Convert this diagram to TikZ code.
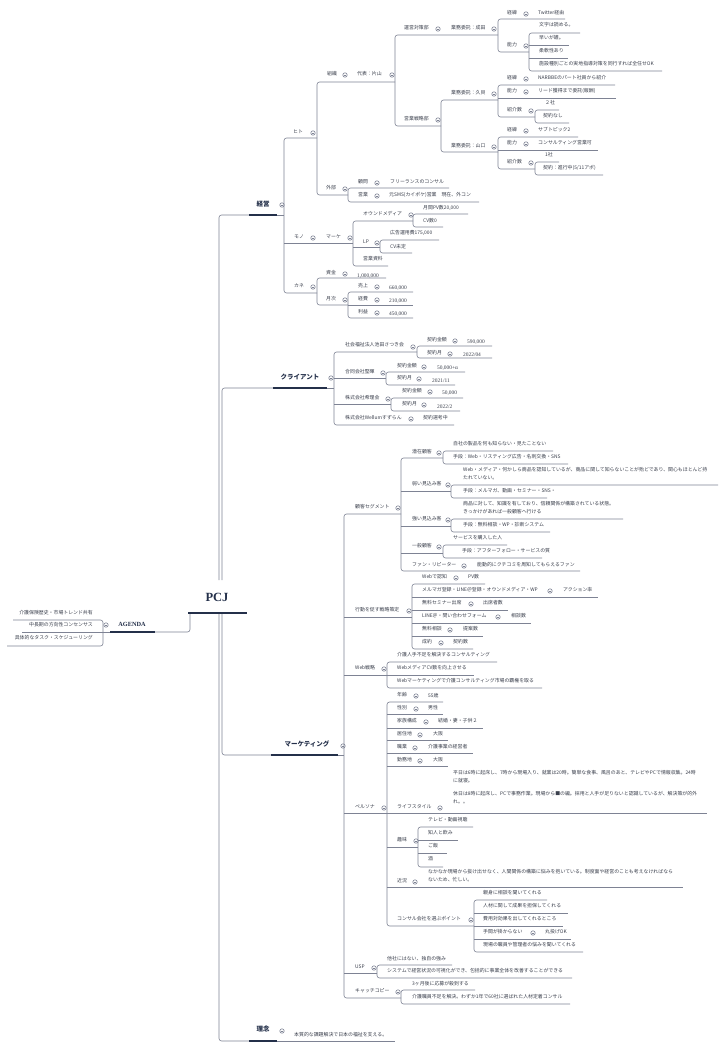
\documentclass[tikz,border=0pt]{standalone}
\usepackage{fontspec}
\setmainfont{Noto Sans CJK JP}
\newfontfamily\serif{Liberation Serif}
\definecolor{lc}{HTML}{7E8394}
\definecolor{nv}{HTML}{24304A}
\definecolor{tc}{HTML}{3A3F4C}
\newcounter{nd}
\tikzset{
 ln/.style={draw=lc, line width=0.6pt},
 rnd/.style={rounded corners=2.5pt},
 hv/.style={draw=nv, line width=2pt},
 txt/.style={anchor=west, inner sep=0pt, text=tc, font=\fontsize{4.9}{7}\selectfont},
 mltxt/.style={anchor=west, inner sep=0pt, text=tc, align=left, font=\fontsize{4.9}{8}\selectfont},
 numtxt/.style={anchor=west, inner sep=0pt, text=tc, font=\serif\fontsize{5.4}{7}\selectfont},
 toplbl/.style={anchor=center, inner sep=0pt, text=nv, font=\bfseries\fontsize{6.5}{8}\selectfont},
}
\newcommand\jtx[3]{\stepcounter{nd}\node[txt] (n\arabic{nd}) at (#1,#2) {#3};}
\newcommand\jml[3]{\stepcounter{nd}\node[mltxt] (n\arabic{nd}) at (#1,#2) {#3};}
\newcommand\jnum[3]{\stepcounter{nd}\node[numtxt] (n\arabic{nd}) at (#1,#2) {#3};}
\newcommand\jcc[2]{\draw[ln,fill=white] (#1,#2) circle[radius=2.2pt]; \draw[ln] (#1-1.3,#2)--(#1+1.3,#2);}
\begin{document}
\begin{tikzpicture}[x=1pt,y=-1pt]
\useasboundingbox (0,0) rectangle (726,1050);
\fill[white] (0,0) rectangle (726,1050);

% ---------- root ----------
\coordinate (ptop1) at (219,580);
\coordinate (ptop2) at (222,580);
\coordinate (pbot1) at (219,613);
\coordinate (pbot2) at (222,613);
\coordinate (pleft) at (190,613);
\draw[ln,rnd] (ptop1) |- (249,215);
\draw[ln,rnd] (ptop2) |- (273,388);
\draw[ln,rnd] (pbot2) |- (271,755);
\draw[ln,rnd] (pbot1) |- (249,1041);
\draw[ln,rnd] (pleft) |- (155,632);
\node[font=\serif\bfseries\fontsize{12.5}{14}\selectfont, text=nv, inner sep=0pt] (pcj) at (217,597) {PCJ};
\draw[hv,line width=2.3pt] (188,613)--(247,613);

% ---------- AGENDA ----------
\node[font=\serif\bfseries\fontsize{6.3}{8}\selectfont, text=nv, inner sep=0pt] (agenda) at (132,624) {AGENDA};
\jcc{106}{625}
\draw[hv] (110,632)--(155,632);
\draw[ln] (22,632)--(110,632);
\draw[ln,rnd] (13,620) -| (103,646) -- (7,646);
\stepcounter{nd}\node[txt,anchor=east] (n\arabic{nd}) at (93,613) {介護保険歴史・市場トレンド共有};
\stepcounter{nd}\node[txt,anchor=east] (n\arabic{nd}) at (93,625) {中長期の方向性コンセンサス};
\stepcounter{nd}\node[txt,anchor=east] (n\arabic{nd}) at (93,638) {具体的なタスク・スケジューリング};

% ---------- 経営 ----------
\node[toplbl] (keiei) at (263,204) {経営};
\jcc{282}{205}
\draw[hv] (249,215)--(277,215);
\draw[ln] (277,215)--(284,215);
\draw[ln,rnd] (317,138) -| (284,293) -- (317,293);
\draw[ln] (284,243)--(353,243);

% ヒト
\jtx{293}{132}{ヒト} \jcc{313}{133}
\draw[ln,rnd] (395,82) -| (317,195) -- (348,195);
\jtx{327}{74}{組織} \jcc{345}{75}
\jtx{357}{74}{代表：片山} \jcc{392}{75}
\draw[ln,rnd] (498,35) -| (395,126) -- (441,126);
\jtx{404}{28}{運営対策部} \jcc{438}{29}
\jtx{451}{28}{業務委託：成田} \jcc{494}{29}
\draw[ln,rnd] (565,19) -| (498,52) -- (529,52);
\jtx{507}{13}{経緯} \jcc{526}{14} \jtx{538}{13}{Twitter経由}
\jtx{507}{45}{能力} \jcc{526}{46}
\draw[ln,rnd] (580,33) -| (529,71) -- (662,71);
\draw[ln] (529,45)--(569,45);
\draw[ln] (529,58)--(568,58);
\jtx{539}{25}{文字は読める。}
\jtx{539}{38}{早いが雑。}
\jtx{539}{51}{柔軟性あり}
\jtx{539}{64}{施設種別ごとの実地指導対策を同行すれば全任せOK}

\jtx{404}{119}{営業戦略部} \jcc{438}{120}
\draw[ln,rnd] (498,100) -| (441,152) -- (498,152);
\jtx{451}{93}{業務委託：久貝} \jcc{494}{94}
\draw[ln,rnd] (615,85) -| (498,117) -- (535,117);
\draw[ln] (498,98)--(616,98);
\jtx{507}{78}{経緯} \jcc{526}{79} \jtx{538}{78}{NARBBEのパート社員から紹介}
\jtx{507}{91}{能力} \jcc{526}{92} \jtx{538}{91}{リード獲得まで委託(報酬)}
\jtx{507}{110}{紹介数} \jcc{531}{111}
\draw[ln,rnd] (559,110) -| (535,123) -- (569,123);
\jtx{545}{103}{２社}
\jtx{543}{116}{契約なし}

\jtx{451}{146}{業務委託：山口} \jcc{494}{147}
\draw[ln,rnd] (578,137) -| (498,169) -- (535,169);
\draw[ln] (498,150)--(598,150);
\jtx{507}{130}{経緯} \jcc{526}{131} \jtx{538}{130}{サブトピック2}
\jtx{507}{143}{能力} \jcc{526}{144} \jtx{538}{143}{コンサルティング営業可}
\jtx{507}{162}{紹介数} \jcc{531}{163}
\draw[ln,rnd] (559,162) -| (535,175) -- (603,175);
\jtx{545}{155}{1社}
\jtx{543}{168}{契約：進行中(5/11アポ)}

\jtx{326}{188}{外部} \jcc{345}{189}
\draw[ln,rnd] (449,188) -| (348,202) -- (479,202);
\jtx{358}{182}{顧問} \jcc{377}{183} \jtx{390}{182}{フリーランスのコンサル}
\jtx{358}{195}{営業} \jcc{377}{196} \jtx{389}{195}{元SMS(カイポケ)営業　現在、外コン}

% モノ
\jtx{294}{237}{モノ} \jcc{313}{238}
\jtx{326}{237}{マーケ} \jcc{350}{238}
\draw[ln,rnd] (413,221) -| (353,266) -- (388,266);
\draw[ln] (353,247)--(380,247);
\jtx{363}{214}{オウンドメディア} \jcc{411}{215}
\draw[ln,rnd] (468,214) -| (413,227) -- (443,227);
\jtx{423}{208}{月間PV数20,000}
\jtx{423}{221}{CV数0}
\jtx{363}{242}{LP} \jcc{377}{243}
\draw[ln,rnd] (439,240) -| (380,253) -- (412,253);
\jtx{390}{233}{広告運用費175,000}
\jtx{390}{247}{CV未定}
\jtx{363}{259}{営業資料}

% カネ
\jtx{294}{286}{カネ} \jcc{313}{287}
\draw[ln,rnd] (386,278) -| (317,305) -- (348,305);
\jtx{326}{273}{資金} \jcc{345}{274} \jnum{357}{276}{1,000,000}
\jtx{326}{299}{月次} \jcc{345}{300}
\draw[ln,rnd] (413,292) -| (348,318) -- (413,318);
\draw[ln] (348,305)--(413,305);
\jtx{358}{286}{売上} \jcc{377}{287} \jnum{389}{288}{660,000}
\jtx{358}{299}{経費} \jcc{377}{300} \jnum{389}{301}{210,000}
\jtx{358}{312}{利益} \jcc{377}{313} \jnum{389}{314}{450,000}

% ---------- クライアント ----------
\node[toplbl] (client) at (300,377) {クライアント};
\jcc{331}{378}
\draw[hv] (273,388)--(327,388);
\draw[ln] (327,388)--(334,388);
\draw[ln,rnd] (417,352) -| (334,425) -- (454,425);
\draw[ln] (334,378)--(386,378);
\draw[ln] (334,404)--(391,404);
\jtx{345}{345}{社会福祉法人池田さつき会} \jcc{413}{347}
\draw[ln,rnd] (492,346) -| (417,358) -- (492,358);
\jtx{427}{340}{契約金額} \jcc{455}{341} \jnum{467}{342}{590,000}
\jtx{427}{353}{契約月} \jcc{450}{354} \jnum{463}{355}{2022/04}
\jtx{345}{372}{合同会社堅暉} \jcc{383}{373}
\draw[ln,rnd] (465,372) -| (386,385) -- (455,385);
\jtx{397}{366}{契約金額} \jcc{424}{367} \jnum{437}{368}{50,000+α}
\jtx{397}{378}{契約月} \jcc{419}{379} \jnum{432}{381}{2021/11}
\jtx{345}{398}{株式会社希理会} \jcc{388}{399}
\draw[ln,rnd] (463,398) -| (391,411) -- (460,411);
\jtx{402}{391}{契約金額} \jcc{430}{392} \jnum{442}{393}{50,000}
\jtx{402}{404}{契約月} \jcc{424}{405} \jnum{437}{407}{2022/2}
\jtx{345}{418}{株式会社Wellumすずらん} \jcc{411}{419} \jtx{423}{418}{契約選考中}

% ---------- マーケティング ----------
\node[toplbl] (mkt) at (307,744) {マーケティング};
\jcc{343}{746}
\draw[hv] (271,755)--(338,755);
\draw[ln] (338,755)--(344,755);
\draw[ln,rnd] (401,514) -| (344,998) -- (401,998);
\draw[ln] (344,617)--(412,617);
\draw[ln] (344,675)--(387,675);
\draw[ln] (344,813)--(707,813);
\draw[ln] (344,973)--(377,973);

% 顧客セグメント
\jtx{355}{507}{顧客セグメント} \jcc{398}{508}
\draw[ln,rnd] (443,458) -| (401,571) -- (580,571);
\draw[ln] (401,491)--(451,491);
\draw[ln] (401,526)--(451,526);
\draw[ln] (401,553)--(443,553);
\jtx{412}{452}{潜在顧客} \jcc{439}{453}
\draw[ln,rnd] (553,451) -| (443,464) -- (568,464);
\jtx{453}{444}{自社の製品を何も知らない・見たことない}
\jtx{453}{457}{手段：Web・リスティング広告・名刺交換・SNS}
\jtx{412}{484}{弱い見込み客} \jcc{448}{485}
\draw[ln,rnd] (718,485) -| (451,498) -- (547,498);
\jml{463}{474}{Web・メディア・何かしら商品を認知しているが、商品に関して知らないことが殆どであり、関心もほとんど持\\たれていない。}
\jtx{463}{491}{手段：メルマガ、動画・セミナー・SNS・}
\jtx{412}{519}{強い見込み客} \jcc{448}{520}
\draw[ln,rnd] (623,519) -| (451,532) -- (550,532);
\jml{463}{508}{商品に対して、知識を有しており、信頼関係が構築されている状態。\\きっかけがあれば一般顧客へ行ける}
\jtx{463}{525}{手段：無料相談・WP・診断システム}
\jtx{412}{546}{一般顧客} \jcc{439}{547}
\draw[ln,rnd] (507,545) -| (443,558) -- (542,558);
\jtx{453}{538}{サービスを購入した人}
\jtx{462}{551}{手段：アフターフォロー・サービスの質}
\jtx{412}{565}{ファン・リピーター} \jcc{464}{566}
\jtx{477}{565}{能動的にクチコミを周知してもらえるファン}

% 行動を促す戦略策定
\jtx{355}{610}{行動を促す戦略策定} \jcc{409}{611}
\draw[ln,rnd] (485,584) -| (412,649) -- (473,649);
\draw[ln] (412,597)--(598,597);
\draw[ln] (412,610)--(508,610);
\draw[ln] (412,623)--(531,623);
\draw[ln] (412,636)--(483,636);
\jtx{422}{577}{Webで認知} \jcc{456}{578} \jtx{468}{577}{PV数}
\jtx{422}{590}{メルマガ登録・LINE＠登録・オウンドメディア・WP} \jcc{550}{591} \jtx{563}{590}{アクション率}
\jtx{422}{603}{無料セミナー出席} \jcc{471}{604} \jtx{483}{603}{出席者数}
\jtx{422}{616}{LINE＠・問い合わせフォーム} \jcc{498}{617} \jtx{511}{616}{相談数}
\jtx{422}{629}{無料相談} \jcc{450}{630} \jtx{463}{629}{提案数}
\jtx{422}{642}{成約} \jcc{441}{643} \jtx{453}{642}{契約数}

% Web戦略
\jtx{355}{668}{Web戦略} \jcc{384}{669}
\draw[ln,rnd] (497,662) -| (387,688) -- (542,688);
\draw[ln] (387,675)--(474,675);
\jtx{397}{655}{介護人手不足を解決するコンサルティング}
\jtx{397}{668}{WebメディアCV数を向上させる}
\jtx{397}{681}{Webマーケティングで介護コンサルティング市場の覇権を取る}

% ペルソナ
\jtx{355}{807}{ペルソナ} \jcc{384}{808}
\draw[ln,rnd] (443,702) -| (387,926) -- (474,926);
\draw[ln] (387,714)--(443,714);
\draw[ln] (387,728)--(483,728);
\draw[ln] (387,740)--(448,740);
\draw[ln] (387,753)--(473,753);
\draw[ln] (387,766)--(448,766);
\draw[ln] (387,847)--(418,847);
\draw[ln] (387,887)--(683,887);
\jtx{397}{695}{年齢} \jcc{416}{696} \jtx{428}{696}{55歳}
\jtx{397}{708}{性別} \jcc{416}{709} \jtx{428}{708}{男性}
\jtx{397}{721}{家族構成} \jcc{426}{722} \jtx{438}{721}{結婚・妻・子供２}
\jtx{397}{734}{居住地} \jcc{420}{735} \jtx{433}{734}{大阪}
\jtx{397}{747}{職業} \jcc{415}{748} \jtx{428}{747}{介護事業の経営者}
\jtx{397}{760}{勤務地} \jcc{420}{761} \jtx{433}{760}{大阪}
\jtx{397}{807}{ライフスタイル} \jcc{440}{808}
\jml{453}{777}{平日は6時に起床し、7時から現場入り、就業は20時。簡単な食事、風呂のあと、テレビやPCで情報収集。24時\\に就寝。}
\jml{453}{797.5}{休日は8時に起床し、PCで事務作業。現場から■の編。採用と人手が足りないと認識しているが、解決策が的外\\れ。。}
\jtx{397}{840}{趣味} \jcc{416}{841}
\draw[ln,rnd] (473,827) -| (418,867) -- (443,867);
\draw[ln] (418,840)--(458,840);
\draw[ln] (418,853)--(447,853);
\jtx{428}{820}{テレビ・動画視聴}
\jtx{428}{833}{知人と飲み}
\jtx{428}{846}{ご飯}
\jtx{428}{859}{酒}
\jtx{397}{881}{近況} \jcc{415}{882}
\jml{428}{876}{なかなか現場から抜け出せなく、人間関係の構築に悩みを抱いている。制度面や経営のことも考えなければなら\\ないため、忙しい。}
\jtx{397}{919}{コンサル会社を選ぶポイント} \jcc{471}{920}
\draw[ln,rnd] (547,900) -| (474,952) -- (583,952);
\draw[ln] (474,913)--(568,913);
\draw[ln] (474,926)--(563,926);
\draw[ln] (474,939)--(571,939);
\jtx{483}{893}{親身に相談を聞いてくれる}
\jtx{483}{906}{人材に関して成果を担保してくれる}
\jtx{483}{919}{費用対効果を出してくれるところ}
\jtx{483}{932}{手間が掛からない} \jcc{533}{933} \jtx{545}{932}{丸投げOK}
\jtx{483}{945}{現場の職員や管理者の悩みを聞いてくれる}

% USP
\jtx{355}{967}{USP} \jcc{374}{968}
\draw[ln,rnd] (452,965) -| (377,978) -- (572,978);
\jtx{387}{959}{他社にはない、独自の強み}
\jtx{387}{971}{システムで経営状況の可視化ができ、包括的に事業全体を改善することができる}

% キャッチコピー
\jtx{355}{991}{キャッチコピー} \jcc{398}{992}
\draw[ln,rnd] (475,990) -| (401,1004) -- (570,1004);
\jtx{412}{984}{3ヶ月後に応募が殺到する}
\jtx{412}{997}{介護職員不足を解決。わずか1年で60社に選ばれた人材定着コンサル}

% ---------- 理念 ----------
\node[toplbl] (rinen) at (263,1029) {理念};
\jcc{282}{1031}
\draw[hv] (249,1041)--(277,1041);
\draw[ln] (277,1041)--(395,1041);
\jtx{294}{1035}{本質的な課題解決で日本の福祉を支える。}
\end{tikzpicture}
\end{document}
